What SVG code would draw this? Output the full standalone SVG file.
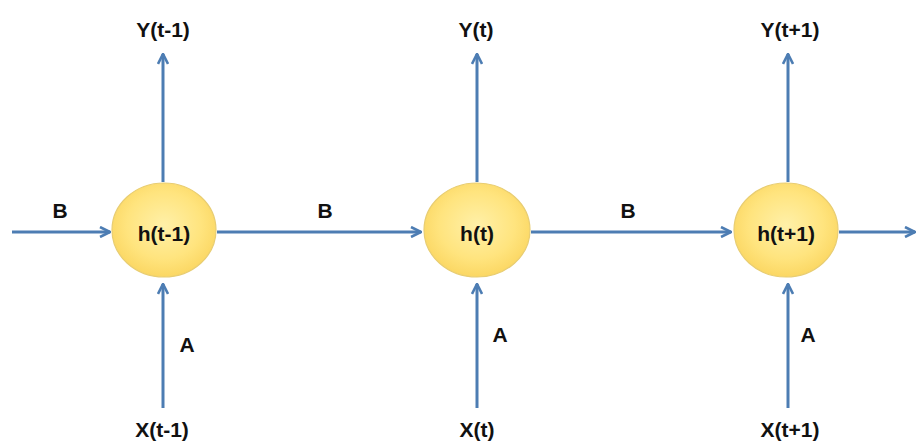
<svg xmlns="http://www.w3.org/2000/svg" width="917" height="441" viewBox="0 0 917 441">
  <style>
    .wire { stroke: #4d7db3; stroke-width: 3; fill: none; }
    .node { fill: url(#ball); stroke: #e8cd72; stroke-width: 1.2; }
    .lbl { font-family: "Liberation Sans", Arial, sans-serif; font-weight: bold; font-size: 21px; fill: #111; text-anchor: middle; }
  </style>
  <defs>
    <radialGradient id="ball" cx="50%" cy="45%" r="55%">
      <stop offset="0" stop-color="#fff0a8"/>
      <stop offset="0.65" stop-color="#ffe47e"/>
      <stop offset="1" stop-color="#fbd763"/>
    </radialGradient>
    <marker id="head" viewBox="0 0 12 12" refX="11" refY="6" markerWidth="12" markerHeight="12" markerUnits="userSpaceOnUse" orient="auto">
      <path d="M1,1 L11,6 L1,11" fill="none" stroke="#4d7db3" stroke-width="2.6" stroke-linejoin="miter"/>
    </marker>
  </defs>

  <!-- connectors -->
  <g id="connectors">
    <!-- recurrent links -->
    <line class="wire" x1="12" y1="232" x2="110" y2="232" marker-end="url(#head)"/>
    <line class="wire" x1="217" y1="232" x2="421" y2="232" marker-end="url(#head)"/>
    <line class="wire" x1="531" y1="232" x2="731" y2="232" marker-end="url(#head)"/>
    <line class="wire" x1="839" y1="232" x2="915" y2="232" marker-end="url(#head)"/>
    <!-- outputs -->
    <line class="wire" x1="163" y1="182" x2="163" y2="54" marker-end="url(#head)"/>
    <line class="wire" x1="477" y1="182" x2="477" y2="54" marker-end="url(#head)"/>
    <line class="wire" x1="788" y1="182" x2="788" y2="54" marker-end="url(#head)"/>
    <!-- inputs -->
    <line class="wire" x1="163" y1="408" x2="163" y2="284" marker-end="url(#head)"/>
    <line class="wire" x1="477" y1="408" x2="477" y2="284" marker-end="url(#head)"/>
    <line class="wire" x1="788" y1="408" x2="788" y2="284" marker-end="url(#head)"/>
    <!-- weight labels -->
    <text class="lbl" x="60" y="218">B</text>
    <text class="lbl" x="325" y="218">B</text>
    <text class="lbl" x="628" y="218">B</text>
    <text class="lbl" x="187" y="352">A</text>
    <text class="lbl" x="500" y="342">A</text>
    <text class="lbl" x="808" y="342">A</text>
  </g>

  <g id="h_prev">
    <ellipse class="node" cx="164" cy="230" rx="52" ry="47"/>
    <text class="lbl" x="164" y="241">h(t-1)</text>
  </g>
  <g id="h_now">
    <ellipse class="node" cx="477" cy="230" rx="53" ry="47"/>
    <text class="lbl" x="477" y="241">h(t)</text>
  </g>
  <g id="h_next">
    <ellipse class="node" cx="786" cy="230" rx="52" ry="47"/>
    <text class="lbl" x="786" y="241">h(t+1)</text>
  </g>

  <g id="y_prev"><text class="lbl" x="163" y="37">Y(t-1)</text></g>
  <g id="y_now"><text class="lbl" x="476" y="37">Y(t)</text></g>
  <g id="y_next"><text class="lbl" x="790" y="37">Y(t+1)</text></g>

  <g id="x_prev"><text class="lbl" x="162" y="437">X(t-1)</text></g>
  <g id="x_now"><text class="lbl" x="477" y="437">X(t)</text></g>
  <g id="x_next"><text class="lbl" x="790" y="437">X(t+1)</text></g>
</svg>
